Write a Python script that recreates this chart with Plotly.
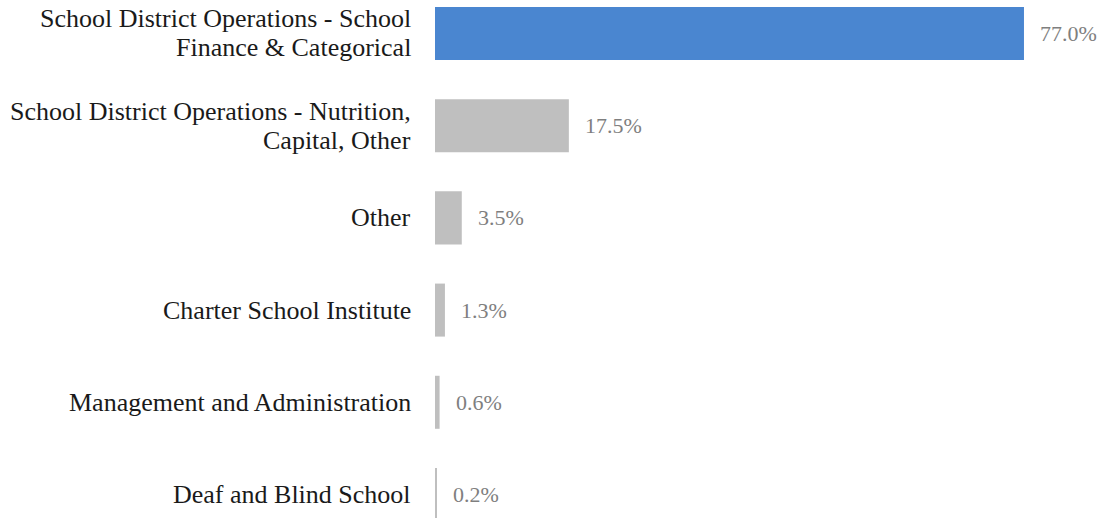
import plotly.graph_objects as go

# Category names (one list entry per printed line) and their budget shares
label_lines = [
    ["School District Operations - School", "Finance & Categorical"],
    ["School District Operations - Nutrition,", "Capital, Other"],
    ["Other"],
    ["Charter School Institute"],
    ["Management and Administration"],
    ["Deaf and Blind School"],
]
categories = [" ".join(lines) for lines in label_lines]
shares = [77.0, 17.5, 3.5, 1.3, 0.6, 0.2]
bar_colors = ["#4a86d0", "#bfbfbf", "#bfbfbf", "#bfbfbf", "#bfbfbf", "#bfbfbf"]

FONT = "Liberation Serif"
LABEL_SIZE = 26
LINE_GAP = 29

fig = go.Figure(
    go.Bar(
        x=shares,
        y=categories,
        orientation="h",
        marker=dict(color=bar_colors, line=dict(width=0)),
        width=0.575,
        hoverinfo="skip",
    )
)

# value labels to the right of each bar
for cat, val in zip(categories, shares):
    fig.add_annotation(
        x=val, y=cat, text=f"{val:.1f}%", showarrow=False,
        xanchor="left", yanchor="middle", xshift=14,
        font=dict(family=FONT, size=22, color="#7f7f7f"),
    )

# category labels, right-aligned, with tight line spacing
for cat, lines in zip(categories, label_lines):
    n = len(lines)
    for k, line in enumerate(lines):
        offset = ((n - 1) / 2 - k) * LINE_GAP
        fig.add_annotation(
            xref="paper", x=0, y=cat, text=line, showarrow=False,
            xanchor="right", yanchor="middle", xshift=-22, yshift=offset,
            font=dict(family=FONT, size=LABEL_SIZE, color="#1a1a1a"),
        )

fig.update_layout(
    width=1102, height=518,
    margin=dict(l=435, r=0, t=0, b=0),
    paper_bgcolor="white", plot_bgcolor="white",
    showlegend=False,
    font=dict(family=FONT, size=LABEL_SIZE, color="#1a1a1a"),
)
fig.update_xaxes(range=[0, 87.2], visible=False)
fig.update_yaxes(
    type="category",
    categoryorder="array", categoryarray=categories,
    range=[5.255, -0.363],
    showgrid=False, zeroline=False, showline=False,
    ticks="", showticklabels=False,
)

fig.write_html("out.html")
